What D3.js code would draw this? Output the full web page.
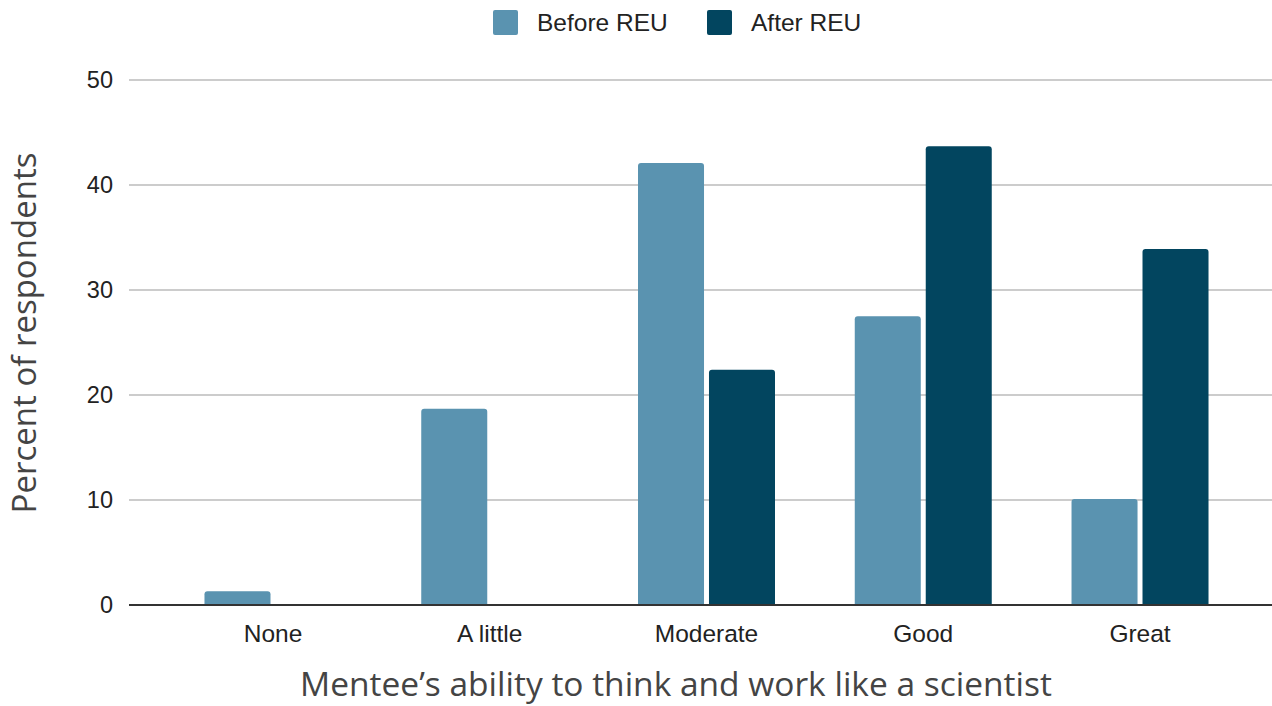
<!DOCTYPE html>
<html><head><meta charset="utf-8">
<script src="https://cdn.jsdelivr.net/npm/d3@7"></script>
<style>body{margin:0;background:#fff}svg{display:block}</style>
</head><body>
<svg id="c" width="1272" height="706"></svg>
<script>
const categories = ["None", "A little", "Moderate", "Good", "Great"];
const seriesNames = ["Before REU", "After REU"];
const beforeValues = [1.3, 18.7, 42.1, 27.5, 10.1];
const afterValues = [0, 0, 22.4, 43.7, 33.9];
const yTicks = [0, 10, 20, 30, 40, 50];
const colors = ["#5a93b0", "#02455f"];
const xTitle = "Mentee’s ability to think and work like a scientist";
const yTitle = "Percent of respondents";

const svg = d3.select("#c");
const gridLeft = 129, gridRight = 1272;
const x0 = d3.scaleBand().domain(categories).range([164.6, 1248.4]).paddingInner(0.368).paddingOuter(0.184);
const x1 = d3.scaleBand().domain(seriesNames).range([0, x0.bandwidth()]).paddingInner(0.07);
const y = d3.scaleLinear().domain([0, 50]).range([605, 80]);

// gridlines
svg.append("g").selectAll("line").data(yTicks.filter(t => t > 0)).join("line")
  .attr("x1", gridLeft).attr("x2", gridRight)
  .attr("y1", d => y(d)).attr("y2", d => y(d))
  .attr("stroke", "#cccccc").attr("stroke-width", 2);

// y tick labels
svg.append("g").selectAll("text").data(yTicks).join("text")
  .attr("x", 113).attr("y", d => y(d)).attr("dy", "0.35em")
  .attr("text-anchor", "end")
  .attr("font-family", "Liberation Sans, Arial, sans-serif").attr("font-size", 23.5)
  .attr("fill", "#222").text(d => d);

// bars
const data = categories.map((c, i) => ({c, vals: [beforeValues[i], afterValues[i]]}));
const groups = svg.append("g").selectAll("g").data(data).join("g")
  .attr("transform", d => `translate(${x0(d.c)},0)`);
function barPath(x, w, top, bottom, r) {
  const h = bottom - top;
  if (h <= 0) return "";
  r = Math.min(r, h, w / 2);
  return `M${x},${bottom}V${top + r}Q${x},${top} ${x + r},${top}H${x + w - r}Q${x + w},${top} ${x + w},${top + r}V${bottom}Z`;
}
groups.selectAll("path").data(d => d.vals.map((v, j) => ({v, s: seriesNames[j], j}))).join("path")
  .attr("d", d => barPath(x1(d.s), x1.bandwidth(), y(d.v), y(0), 3))
  .attr("fill", d => colors[d.j]);

// baseline
svg.append("line").attr("x1", gridLeft).attr("x2", gridRight)
  .attr("y1", y(0)).attr("y2", y(0)).attr("stroke", "#333").attr("stroke-width", 2);

// x labels
svg.append("g").selectAll("text").data(categories).join("text")
  .attr("x", d => x0(d) + x0.bandwidth() / 2).attr("y", 642)
  .attr("text-anchor", "middle")
  .attr("font-family", "Liberation Sans, Arial, sans-serif").attr("font-size", 24.5)
  .attr("fill", "#222").text(d => d);

// axis titles
svg.append("text").attr("x", 676).attr("y", 696).attr("text-anchor", "middle")
  .attr("font-family", "Open Sans, sans-serif").attr("font-size", 33.5)
  .attr("fill", "#444").text(xTitle);
svg.append("text").attr("transform", "translate(36,333) rotate(-90)").attr("text-anchor", "middle")
  .attr("font-family", "Open Sans, sans-serif").attr("font-size", 33)
  .attr("fill", "#444").text(yTitle);

// legend
const legendX = [493, 707];
const lg = svg.append("g").selectAll("g").data(seriesNames).join("g")
  .attr("transform", (d, i) => `translate(${legendX[i]},10)`);
lg.append("rect").attr("width", 25).attr("height", 25).attr("rx", 2).attr("fill", (d, i) => colors[i]);
lg.append("text").attr("x", 44).attr("y", 12.5).attr("dy", "0.35em")
  .attr("font-family", "Liberation Sans, Arial, sans-serif").attr("font-size", 24.5)
  .attr("fill", "#222").text(d => d);
</script>
</body></html>
